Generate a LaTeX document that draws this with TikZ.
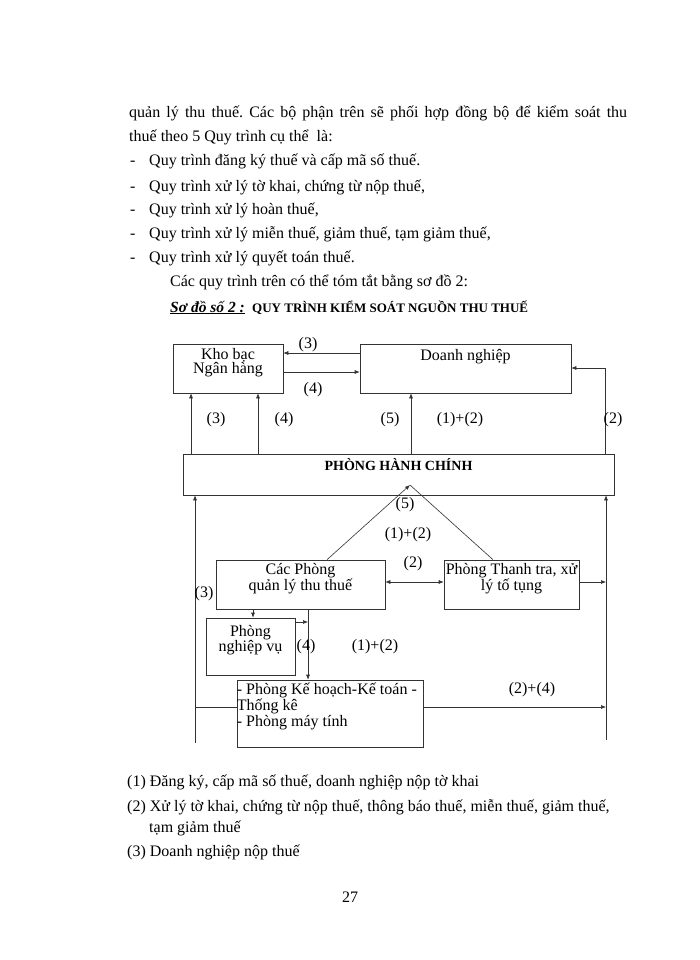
\documentclass[tikz,border=0pt]{standalone}
\usepackage{fontspec}
\setmainfont{Liberation Serif}
\usetikzlibrary{arrows.meta,calc}
\frenchspacing
\begin{document}
\begin{tikzpicture}[x=1pt,y=-1pt,
  box/.style={draw=black!80, line width=0.6pt, inner sep=0pt},
  bodytxt/.style={anchor=base west, inner sep=0pt, font=\fontsize{16}{24}\selectfont},
  dtxt/.style={font=\fontsize{16}{14.5}\selectfont, inner sep=0pt},
  lab/.style={font=\fontsize{16}{16}\selectfont, inner sep=0pt},
  arr/.style={ln, -{Latex[length=5pt,width=4pt]}},
  darr/.style={ln, {Latex[length=5pt,width=4pt]}-{Latex[length=5pt,width=4pt]}},
  ln/.style={draw=black!80, line width=0.6pt}
]
\fill[white] (0,0) rectangle (700,960);
\useasboundingbox (0,0) rectangle (700,960);

% ---------- body text ----------
\node[bodytxt] (p1) at (129,118) {\makebox[498pt][s]{quản lý thu thuế. Các bộ phận trên sẽ phối hợp đồng bộ để kiểm soát thu}};
\node[bodytxt] (p2) at (129,142) {thuế theo 5 Quy trình cụ thể\ \ là:};
\node[bodytxt] (d1) at (130,166) {-};
\node[bodytxt] (b1) at (149,166) {Quy trình đăng ký thuế và cấp mã số thuế.};
\node[bodytxt] (d2) at (130,191) {-};
\node[bodytxt] (b2) at (149,191) {Quy trình xử lý tờ khai, chứng từ nộp thuế,};
\node[bodytxt] (d3) at (130,214) {-};
\node[bodytxt] (b3) at (149,214) {Quy trình xử lý hoàn thuế,};
\node[bodytxt] (d4) at (130,238) {-};
\node[bodytxt] (b4) at (149,238) {Quy trình xử lý miễn thuế, giảm thuế, tạm giảm thuế,};
\node[bodytxt] (d5) at (130,262) {-};
\node[bodytxt] (b5) at (149,262) {Quy trình xử lý quyết toán thuế.};
\node[bodytxt] (p3) at (170,286) {Các quy trình trên có thể tóm tắt bằng sơ đồ 2:};
\node[bodytxt, font=\fontsize{15.5}{16}\selectfont\bfseries\itshape] (sd) at (170,312) {\underline{Sơ đồ số 2 :}};
\node[bodytxt, font=\fontsize{13}{16}\selectfont\bfseries] (title) at (252,312) {QUY TRÌNH KIỂM SOÁT NGUỒN THU THUẾ};

% ---------- helper coordinates ----------
\coordinate (h353) at (0,353);
\coordinate (h368) at (0,368);
\coordinate (h372) at (0,372);
\coordinate (h582) at (0,582);
\coordinate (h622) at (0,622);
\coordinate (h707) at (0,707);
\coordinate (v191) at (191,0);
\coordinate (v253) at (253,0);
\coordinate (v258) at (258,0);
\coordinate (v308) at (308,0);
\coordinate (v327) at (327,0);
\coordinate (v411) at (411,0);
\coordinate (v493) at (493,0);
\coordinate (v605) at (605,0);
\coordinate (lb) at (195,743);
\coordinate (rb) at (606,740);
\coordinate (apex) at (410,485);

% ---------- boxes ----------
\node[box, minimum width=110, minimum height=49,
  label={[dtxt,anchor=north,align=center,yshift=-4pt]north:{Kho bạc\\Ngân hàng}}] (kb) at (228,368.5) {};
\node[box, minimum width=211, minimum height=49,
  label={[dtxt,anchor=north,yshift=-5pt]north:{Doanh nghiệp}}] (dn) at (465.5,368.5) {};
\node[box, minimum width=431, minimum height=41,
  label={[anchor=north,inner sep=0pt,yshift=-5pt,font=\fontsize{14}{16}\selectfont\bfseries]north:{PHÒNG HÀNH CHÍNH}}] (phc) at (398.5,474.5) {};
\node[box, minimum width=169, minimum height=49,
  label={[dtxt,anchor=north,align=center,yshift=-3pt]north:{Các Phòng\\quản lý thu thuế}}] (cp) at (300.5,584.5) {};
\node[box, minimum width=135, minimum height=49,
  label={[dtxt,anchor=north,align=center,yshift=-3pt]north:{Phòng Thanh tra, xử\\lý tố tụng}}] (tt) at (511.5,584.5) {};
\node[box, minimum width=89, minimum height=57,
  label={[dtxt,anchor=north,align=center,yshift=-7pt]north:{Phòng\\nghiệp vụ}}] (nv) at (250.5,646.5) {};
\node[box, minimum width=186, minimum height=67,
  label={[dtxt,anchor=north west,align=left,yshift=-3pt]north west:{- Phòng Kế hoạch-Kế toán -\\Thống kê\\- Phòng máy tính}}] (kh) at (330,713.5) {};

% ---------- connectors ----------
\draw[arr] (dn.west |- h353) -- (kb.east |- h353);
\draw[arr] (kb.east |- h372) -- (dn.west |- h372);
\draw[arr] (phc.north -| v191) -- (kb.south -| v191);
\draw[arr] (phc.north -| v258) -- (kb.south -| v258);
\draw[arr] (phc.north -| v411) -- (dn.south -| v411);
\draw[arr] (phc.north -| v605) -- (v605 |- h368) -- (dn.east |- h368);
\draw[arr] (lb) -- (phc.south -| lb);
\draw[arr] (rb) -- (phc.south -| rb);
\draw[arr] (cp.north -| v327) -- (apex);
\draw[ln] (apex) -- (tt.north -| v493);
\draw[darr] (cp.east |- h582) -- (tt.west |- h582);
\draw[arr] (tt.east |- h582) -- (rb |- h582);
\draw[arr] (cp.south -| v253) -- (nv.north -| v253);
\draw[arr] (cp.south -| v308) -- (kh.north -| v308);
\draw[arr] (nv.east |- h622) -- (v308 |- h622);
\draw[ln] (lb |- h707) -- (kh.west |- h707);
\draw[arr] (kh.east |- h707) -- (rb |- h707);

% ---------- connector labels ----------
\node[lab] (l3a) at (308,345) {(3)};
\node[lab] (l4a) at (313,390) {(4)};
\node[lab] (l3b) at (216,420) {(3)};
\node[lab] (l4b) at (284,420) {(4)};
\node[lab] (l5a) at (390,420) {(5)};
\node[lab] (l12a) at (460,420) {(1)+(2)};
\node[lab] (l2a) at (613,420) {(2)};
\node[lab] (l5b) at (405,505) {(5)};
\node[lab] (l12b) at (408,535) {(1)+(2)};
\node[lab] (l2b) at (413,564) {(2)};
\node[lab] (l3c) at (204,594) {(3)};
\node[lab] (l4c) at (306,647) {(4)};
\node[lab] (l12c) at (375,647) {(1)+(2)};
\node[lab] (l24) at (532,690) {(2)+(4)};

% ---------- legend ----------
\node[bodytxt] (g1) at (127,786) {(1) Đăng ký, cấp mã số thuế, doanh nghiệp nộp tờ khai};
\node[bodytxt] (g2) at (127,811) {(2) Xử lý tờ khai, chứng từ nộp thuế, thông báo thuế, miễn thuế, giảm thuế,};
\node[bodytxt] (g2b) at (149,832) {tạm giảm thuế};
\node[bodytxt] (g3) at (127,856) {(3) Doanh nghiệp nộp thuế};
\node[anchor=base, inner sep=0pt, font=\fontsize{16}{24}\selectfont] (pg) at (350,902) {27};
\end{tikzpicture}
\end{document}
